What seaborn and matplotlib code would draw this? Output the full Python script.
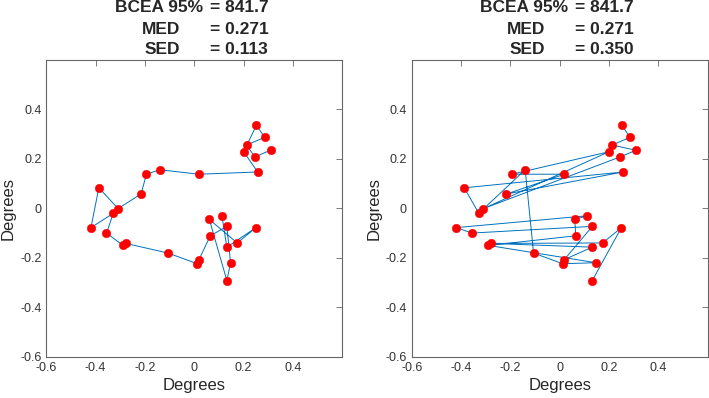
import numpy as np
import pandas as pd
import matplotlib
matplotlib.use("Agg")
import matplotlib.pyplot as plt
import seaborn as sns

# fixation positions (degrees), listed in the order of the left panel's scanpath
fix_x = [0.309, 0.245, 0.212, 0.285, 0.252, 0.200, 0.257, 0.019, -0.140, -0.194,
         -0.216, -0.309, -0.387, -0.419, -0.328, -0.356, -0.289, -0.277, -0.106, 0.012,
         0.019, 0.065, 0.132, 0.147, 0.132, 0.061, 0.174, 0.250, 0.132, 0.112]
fix_y = [0.235, 0.208, 0.256, 0.287, 0.336, 0.229, 0.147, 0.138, 0.156, 0.138,
         0.058, -0.001, 0.083, -0.078, -0.020, -0.100, -0.150, -0.142, -0.181, -0.224,
         -0.207, -0.111, -0.073, -0.220, -0.292, -0.045, -0.140, -0.078, -0.157, -0.030]

# visiting order for each panel (indices into the fixation list)
order_left = list(range(30))
order_right = [4, 3, 2, 0, 1, 11, 5, 9, 7, 10, 6, 12, 14, 8, 18, 19, 23, 16, 21, 25,
               29, 13, 15, 22, 20, 28, 17, 26, 27, 24]

stat_names = ["BCEA 95%", "MED", "SED"]
values_left = ["= 841.7", "= 0.271", "= 0.113"]
values_right = ["= 841.7", "= 0.271", "= 0.350"]

ticks = [-0.6, -0.4, -0.2, 0, 0.2, 0.4]
tick_labels = ["-0.6", "-0.4", "-0.2", "0", "0.2", "0.4"]

sns.set_style("white")
plt.rcParams['font.family'] = ['Liberation Sans', 'DejaVu Sans']

fig = plt.figure(figsize=(7.09, 3.98), dpi=100)
ax0 = fig.add_axes([0.0653, 0.1038, 0.4175, 0.7455])
ax1 = fig.add_axes([0.5807, 0.1038, 0.4175, 0.7455])

line_col = (0.0, 0.447, 0.741)
axis_col = (0.4, 0.4, 0.4)

for ax, order, vals in [(ax0, order_left, values_left), (ax1, order_right, values_right)]:
    df = pd.DataFrame({'x': [fix_x[i] for i in order], 'y': [fix_y[i] for i in order]})
    sns.lineplot(data=df, x='x', y='y', sort=False, estimator=None, ax=ax,
                 color=line_col, linewidth=0.7)
    sns.scatterplot(data=df, x='x', y='y', ax=ax, color='red', s=38,
                    edgecolor='red', linewidth=0.3, zorder=3)

    ax.set_xlim(-0.6, 0.6)
    ax.set_ylim(-0.6, 0.6)
    ax.set_xticks(ticks)
    ax.set_yticks(ticks)
    ax.set_xticklabels(tick_labels)
    ax.set_yticklabels(tick_labels)
    ax.tick_params(direction='in', length=4, width=0.6, top=True, right=True,
                   labelsize=9, colors=(0.2, 0.2, 0.2), color=axis_col)
    for sp in ax.spines.values():
        sp.set_color(axis_col)
        sp.set_linewidth(0.8)
    ax.set_xlabel("Degrees", fontsize=12, labelpad=3)
    ax.set_ylabel("Degrees", fontsize=12, labelpad=3)

    # three-line stats title
    name_right = [0.529, 0.452, 0.452]
    line_y = [1.178, 1.103, 1.034]
    for nx, ly, lab, v in zip(name_right, line_y, stat_names, vals):
        ax.text(nx, ly, lab, transform=ax.transAxes, fontsize=12.5,
                fontweight='bold', ha='right', va='center')
        ax.text(0.553, ly, v, transform=ax.transAxes, fontsize=12.5,
                fontweight='bold', ha='left', va='center')

fig.savefig("out.png", dpi=100)
